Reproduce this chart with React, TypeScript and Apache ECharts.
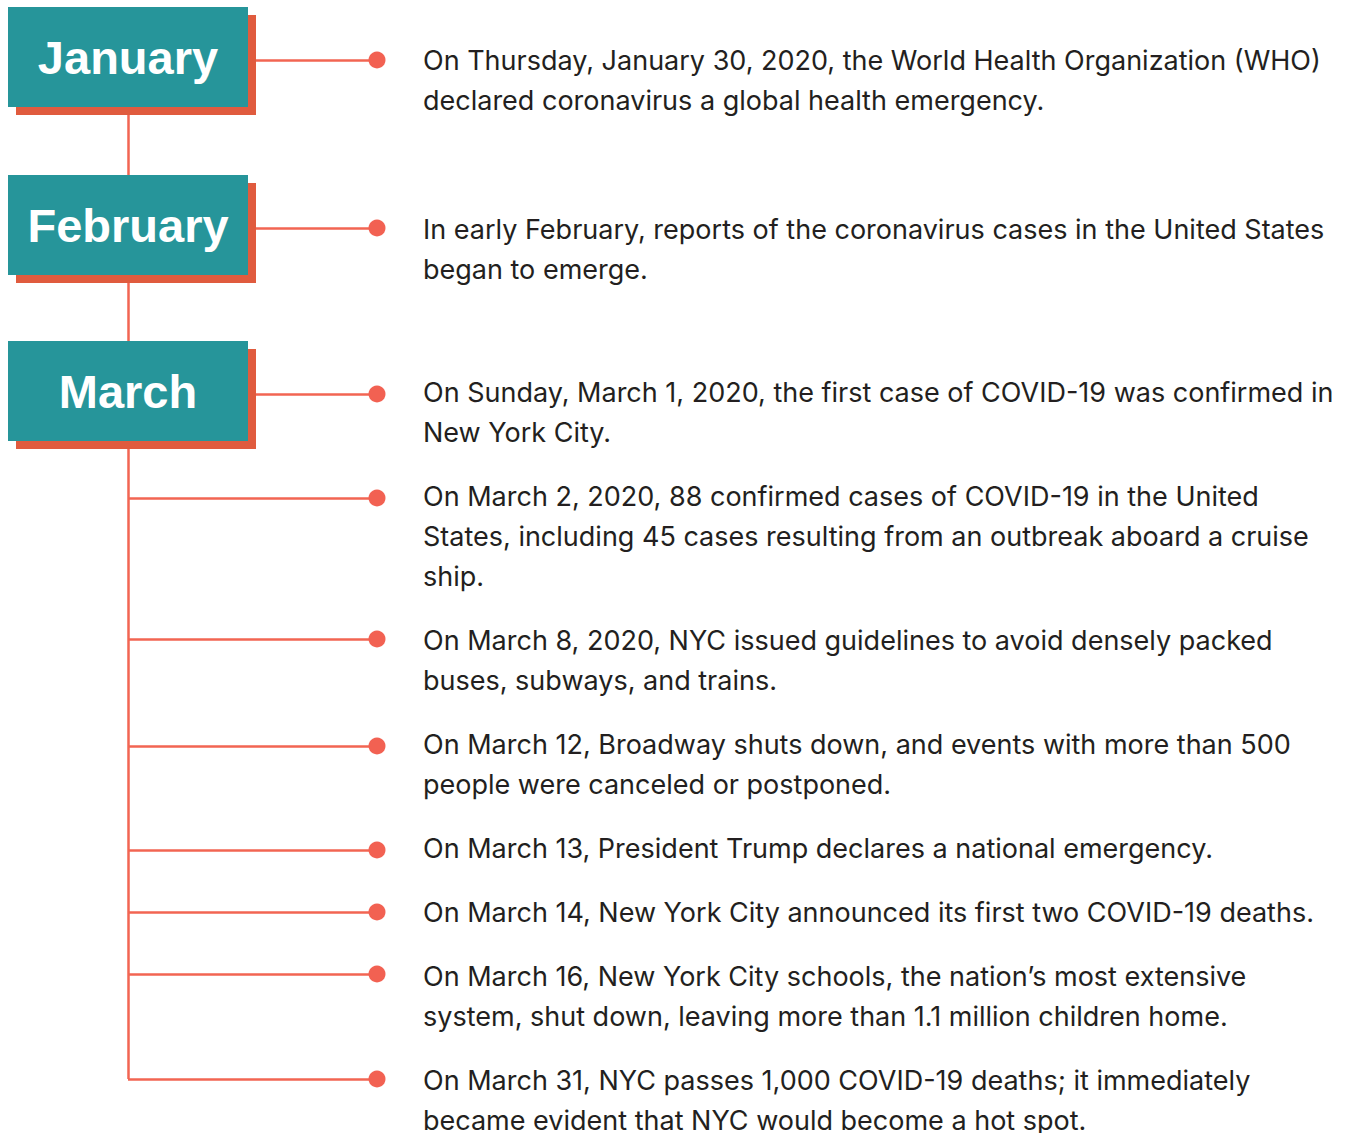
import React, { useEffect, useRef } from "react";
import * as echarts from "echarts";

const months = ["January", "February", "March"];
const monthLineY = [60, 228, 394];

const eventY = [60, 228, 394, 498, 639, 746, 850, 912, 974, 1079];
const textY = [60, 229, 392, 496, 640, 744, 848, 912, 976, 1080];
const eventText = [
  "On Thursday, January 30, 2020, the World Health Organization (WHO)\ndeclared coronavirus a global health emergency.",
  "In early February, reports of the coronavirus cases in the United States\nbegan to emerge.",
  "On Sunday, March 1, 2020, the first case of COVID-19 was confirmed in\nNew York City.",
  "On March 2, 2020, 88 confirmed cases of COVID-19 in the United\nStates, including 45 cases resulting from an outbreak aboard a cruise\nship.",
  "On March 8, 2020, NYC issued guidelines to avoid densely packed\nbuses, subways, and trains.",
  "On March 12, Broadway shuts down, and events with more than 500\npeople were canceled or postponed.",
  "On March 13, President Trump declares a national emergency.",
  "On March 14, New York City announced its first two COVID-19 deaths.",
  "On March 16, New York City schools, the nation\u2019s most extensive\nsystem, shut down, leaving more than 1.1 million children home.",
  "On March 31, NYC passes 1,000 COVID-19 deaths; it immediately\nbecame evident that NYC would become a hot spot.",
];

const W = 1366;
const H = 1133;
const TRUNK_X = 128;
const DOT_X = 377;
const TEXT_X = 423;
const TEAL = "#26959A";
const SHADOW = "#E05B3E";
const LINE = "#F26552";
const DOT = "#F26152";

export default function App() {
  const ref = useRef<HTMLDivElement>(null);
  useEffect(() => {
    const chart = echarts.init(ref.current!, undefined, { renderer: "svg" });

    const connectors = eventY.map((y) => ({ coords: [[TRUNK_X, y], [DOT_X, y]] }));
    connectors.push({ coords: [[TRUNK_X, monthLineY[0]], [TRUNK_X, eventY[eventY.length - 1]]] });

    const graphics: any[] = [];
    months.forEach((m, i) => {
      const cy = monthLineY[i];
      graphics.push({
        type: "rect",
        z: 100,
        shape: { x: 16, y: cy - 45, width: 240, height: 100 },
        style: { fill: SHADOW },
      });
      graphics.push({
        type: "rect",
        z: 101,
        shape: { x: 8, y: cy - 53, width: 240, height: 100 },
        style: { fill: TEAL },
      });
      graphics.push({
        type: "text",
        z: 102,
        x: 128,
        y: cy - 3,
        style: {
          text: m,
          fill: "#ffffff",
          font: "bold 47px 'Liberation Sans', Arial, sans-serif",
          textAlign: "center",
          textVerticalAlign: "middle",
        },
      });
    });
    eventText.forEach((t, i) => {
      graphics.push({
        type: "text",
        z: 102,
        x: TEXT_X,
        y: textY[i] - 20,
        style: {
          text: t,
          fill: "#231F20",
          font: "27px Inter, 'Liberation Sans', Arial, sans-serif",
          lineHeight: 40,
          textAlign: "left",
          textVerticalAlign: "top",
        },
      });
    });

    chart.setOption({
      animation: false,
      grid: { left: 0, right: 0, top: 0, bottom: 0 },
      xAxis: { type: "value", min: 0, max: W, show: false },
      yAxis: { type: "value", min: 0, max: H, inverse: true, show: false },
      series: [
        {
          type: "lines",
          coordinateSystem: "cartesian2d",
          polyline: false,
          silent: true,
          z: 1,
          lineStyle: { color: LINE, width: 2.5, opacity: 1 },
          data: connectors,
        },
        {
          type: "scatter",
          z: 3,
          symbol: "circle",
          symbolSize: 17,
          itemStyle: { color: DOT, opacity: 1 },
          data: eventY.map((y) => [DOT_X, y]),
        },
      ],
      graphic: graphics,
    });
    return () => chart.dispose();
  }, []);
  return (
    <div
      ref={ref}
      style={{ position: "fixed", left: 0, top: 0, width: W, height: H, background: "#fff" }}
    />
  );
}
